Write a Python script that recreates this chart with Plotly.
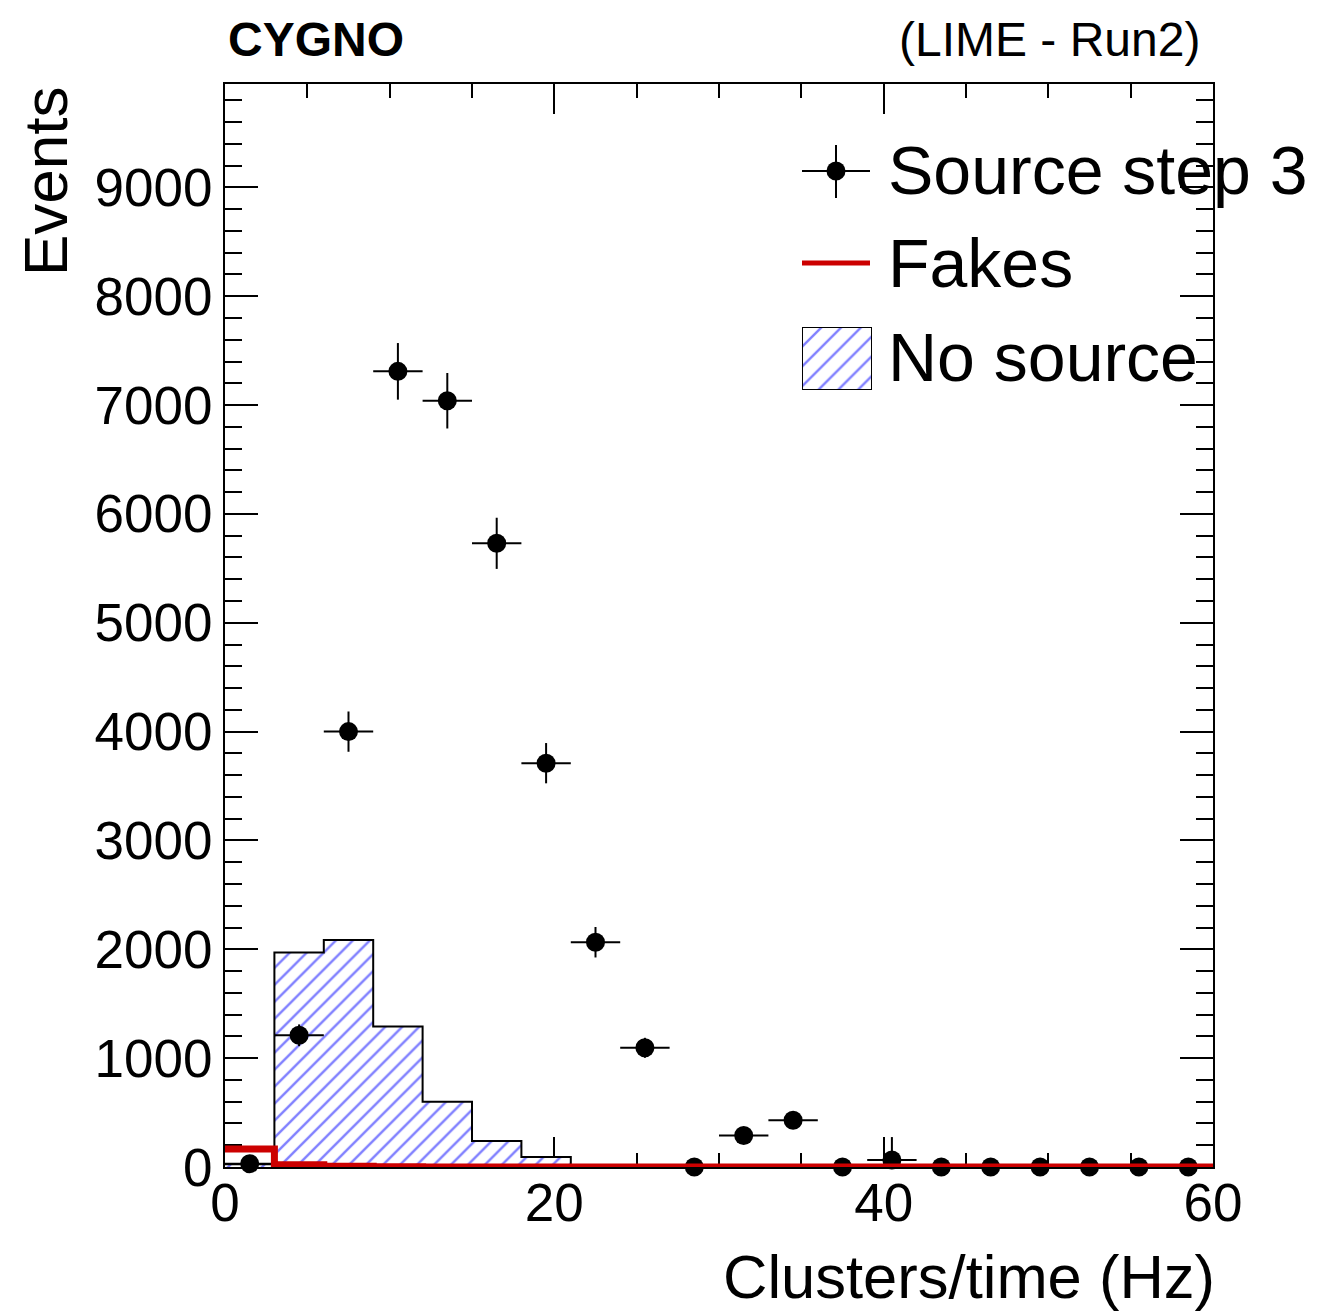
import plotly.graph_objects as go

# ---- data ----
bin_edges = [0, 3, 6, 9, 12, 15, 18, 21, 24, 27, 30, 33, 36, 39, 42, 45, 48, 51, 54, 57, 60]
bin_centers = [1.5, 4.5, 7.5, 10.5, 13.5, 16.5, 19.5, 22.5, 25.5, 28.5,
               31.5, 34.5, 37.5, 40.5, 43.5, 46.5, 49.5, 52.5, 55.5, 58.5]
source_step3 = [30, 1210, 4000, 7310, 7040, 5730, 3710, 2065, 1095, 0,
                290, 430, 0, 65, 0, 0, 0, 0, 0, 0]
source_err = [20, 100, 185, 260, 255, 235, 185, 140, 92, 0,
              60, 70, 0, 210, 0, 0, 0, 0, 0, 0]
no_source = [25, 1970, 2085, 1290, 600, 240, 92, 0, 0, 0,
             0, 0, 0, 0, 0, 0, 0, 0, 0, 0]
fakes = [165, 20, 8, 3, 0, 0, 0, 0, 0, 0,
         0, 0, 0, 0, 0, 0, 0, 0, 0, 0]
half_width = [1.5] * 20

FONT = "Liberation Sans, Arial, Helvetica, sans-serif"

# plot area in pixels (layout helpers)
L, R, T, B = 225, 1213, 84, 1167
def px(x):
    return (x - L) / (R - L)
def py(y):
    return (B - y) / (B - T)

fig = go.Figure()

# No source: hatched step histogram
fig.add_trace(go.Scatter(
    x=bin_edges, y=no_source + [no_source[-1]],
    mode="lines", line=dict(shape="hv", color="black", width=2),
    fill="tozeroy",
    fillpattern=dict(shape="/", fgcolor="#0000ff", bgcolor="white", size=12, solidity=0.2),
    showlegend=False, hoverinfo="skip",
))

# Source step 3 points
fig.add_trace(go.Scatter(
    x=bin_centers, y=source_step3, mode="markers",
    marker=dict(color="black", size=19),
    error_y=dict(type="data", array=source_err, color="black", thickness=2, width=0),
    error_x=dict(type="data", array=half_width, color="black", thickness=2, width=0),
    cliponaxis=False, showlegend=False,
))

# Fakes red step line
fig.add_trace(go.Scatter(
    x=bin_edges, y=fakes + [fakes[-1]],
    mode="lines", line=dict(shape="hv", color="#cc0000", width=7),
    cliponaxis=False, showlegend=False, hoverinfo="skip",
))

# legend hatched box on auxiliary axes
fig.add_trace(go.Scatter(
    x=[0, 1, 1, 0, 0], y=[0, 0, 1, 1, 0], xaxis="x2", yaxis="y2",
    mode="lines", line=dict(color="black", width=2),
    fill="toself",
    fillpattern=dict(shape="/", fgcolor="#0000ff", bgcolor="white", size=14, solidity=0.17),
    showlegend=False, hoverinfo="skip",
))

shapes = []
# legend item 1: marker with error bars
shapes.append(dict(type="line", xref="paper", yref="paper",
                   x0=px(802), x1=px(870), y0=py(171), y1=py(171),
                   line=dict(color="black", width=2)))
shapes.append(dict(type="line", xref="paper", yref="paper",
                   x0=px(836), x1=px(836), y0=py(145), y1=py(198),
                   line=dict(color="black", width=2)))
shapes.append(dict(type="circle", xref="paper", yref="paper",
                   x0=px(826.5), x1=px(845.5), y0=py(161.5), y1=py(180.5),
                   fillcolor="black", line=dict(color="black", width=0)))
# legend item 2: red line
shapes.append(dict(type="line", xref="paper", yref="paper",
                   x0=px(802), x1=px(870), y0=py(263), y1=py(263),
                   line=dict(color="#cc0000", width=5)))

annotations = []
leg_font = dict(family=FONT, size=68, color="black")
for txt, yc in [("Source step 3", 170), ("Fakes", 263), ("No source", 357)]:
    annotations.append(dict(text=txt, xref="paper", yref="paper", x=px(886), y=py(yc),
                            xanchor="left", yanchor="middle", showarrow=False, font=leg_font))
annotations.append(dict(text="<b>CYGNO</b>", xref="paper", yref="paper", x=px(226), y=py(40),
                        xanchor="left", yanchor="middle", showarrow=False,
                        font=dict(family=FONT, size=48, color="black")))
annotations.append(dict(text="(LIME - Run2)", xref="paper", yref="paper", x=px(1202), y=py(40),
                        xanchor="right", yanchor="middle", showarrow=False,
                        font=dict(family=FONT, size=48, color="black")))
annotations.append(dict(text="Clusters/time (Hz)", xref="paper", yref="paper", x=px(1217), y=py(1276),
                        xanchor="right", yanchor="middle", showarrow=False,
                        font=dict(family=FONT, size=61.5, color="black")))
annotations.append(dict(text="Events", xref="paper", yref="paper", x=px(45), y=py(84),
                        xanchor="center", yanchor="top", textangle=-90, showarrow=False,
                        font=dict(family=FONT, size=62, color="black")))

axis_common = dict(showgrid=False, zeroline=False, showline=True, linecolor="black",
                   linewidth=2, mirror="ticks", ticks="inside", tickcolor="black",
                   tickwidth=2, tickfont=dict(family=FONT, size=53, color="black"),
                   layer="below traces", tickformat="d")

fig.update_layout(
    width=1318, height=1311,
    margin=dict(l=L, r=1318 - R, t=T, b=1311 - B),
    paper_bgcolor="white", plot_bgcolor="white",
    showlegend=False,
    xaxis=dict(range=[0, 60], dtick=20, tick0=0, ticklen=30,
               minor=dict(dtick=5, ticklen=14, tickwidth=2, tickcolor="black", ticks="inside"),
               ticklabelstandoff=-12,
               **axis_common),
    yaxis=dict(range=[0, 9950], dtick=1000, tick0=0, ticklen=33,
               minor=dict(dtick=200, ticklen=17, tickwidth=2, tickcolor="black", ticks="inside"),
               ticklabelstandoff=0,
               **axis_common),
    xaxis2=dict(domain=[px(802), px(872)], range=[0, 1], visible=False, anchor="y2"),
    yaxis2=dict(domain=[py(390), py(327)], range=[0, 1], visible=False, anchor="x2"),
    shapes=shapes,
    annotations=annotations,
)

fig.write_html("out.html")
